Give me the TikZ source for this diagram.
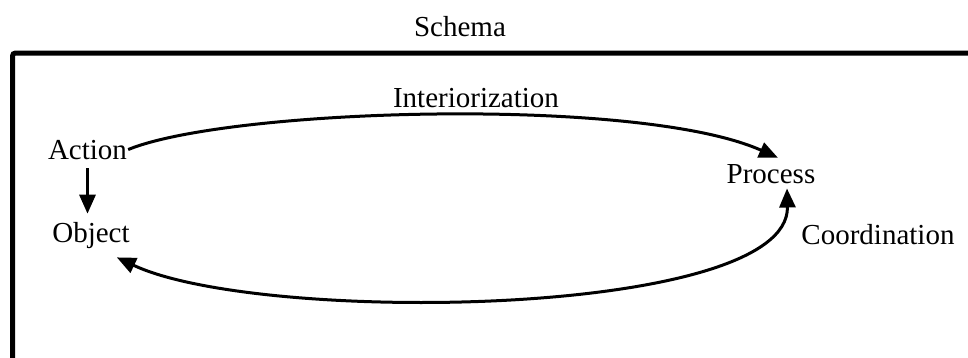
\documentclass[tikz,border=0pt]{standalone}
\usepackage{fontspec}
\setmainfont{Liberation Serif}
\usetikzlibrary{arrows.meta}
\begin{document}
\begin{tikzpicture}[x=1pt,y=-1pt,
  lbl/.style={inner sep=1pt,anchor=base,font=\fontsize{29}{34}\selectfont},
  conn/.style={line width=3pt,-{Triangle[length=19pt,width=16pt]}},
  conn2/.style={line width=3pt,{Triangle[length=19pt,width=16pt]}-{Triangle[length=19pt,width=16pt]}}]
\useasboundingbox (0,0) rectangle (968,357);
\draw[line width=5pt,rounded corners=3pt] (12.5,360) -- (12.5,53) -- (972,53);
\node[lbl] (schema) at (460,36) {Schema};
\node[lbl] (inter) at (476,107) {Interiorization};
\node[lbl] (action) at (87.5,159) {Action};
\node[lbl] (object) at (91,242) {Object};
\node[lbl] (process) at (771,183) {Process};
\node[lbl] (coord) at (878,244) {Coordination};
\draw[conn,shorten <=8pt,shorten >=7pt] (action.south) -- (object.north -| action.south);
\draw[conn] (action.east) .. controls (230,108) and (640,96) .. ([xshift=7pt,yshift=5pt]process.north);
\draw[conn2] ([xshift=16pt,yshift=-4pt]process.south) .. controls (790,318) and (260,325) .. ([xshift=-14pt,yshift=-8pt]object.south east);
\end{tikzpicture}
\end{document}
